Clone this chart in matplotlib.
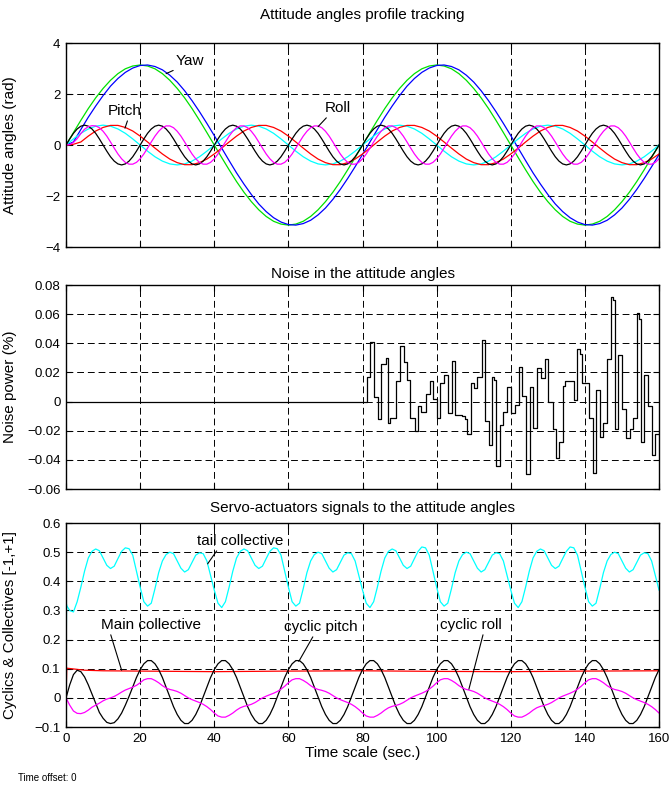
import numpy as np
import matplotlib
matplotlib.use("Agg")
import matplotlib.pyplot as plt
from matplotlib.ticker import FuncFormatter

plt.rcParams['font.family'] = ['Liberation Sans', 'DejaVu Sans']

# ---- data ----
# top panel, 2 s samples
t_slow = np.arange(0, 161, 2)
yaw_ref = [0, 0.49, 0.97, 1.43, 1.85, 2.22, 2.54, 2.80, 2.99, 3.10, 3.14, 3.10, 2.99, 2.80, 2.54, 2.22, 1.85, 1.43, 0.97, 0.49,
           0, -0.49, -0.97, -1.43, -1.85, -2.22, -2.54, -2.80, -2.99, -3.10, -3.14, -3.10, -2.99, -2.80, -2.54, -2.22, -1.85, -1.43, -0.97, -0.49,
           0, 0.49, 0.97, 1.43, 1.85, 2.22, 2.54, 2.80, 2.99, 3.10, 3.14, 3.10, 2.99, 2.80, 2.54, 2.22, 1.85, 1.43, 0.97, 0.49,
           0, -0.49, -0.97, -1.43, -1.85, -2.22, -2.54, -2.80, -2.99, -3.10, -3.14, -3.10, -2.99, -2.80, -2.54, -2.22, -1.85, -1.43, -0.97, -0.49,
           0]
yaw = [0, 0.12, 0.61, 1.09, 1.53, 1.94, 2.31, 2.61, 2.85, 3.02, 3.12, 3.14, 3.08, 2.95, 2.74, 2.47, 2.13, 1.74, 1.31, 0.85, 0.37,
       -0.12, -0.61, -1.09, -1.53, -1.94, -2.31, -2.61, -2.85, -3.02, -3.12, -3.14, -3.08, -2.95, -2.74, -2.47, -2.13, -1.74, -1.31, -0.85, -0.37,
       0.12, 0.61, 1.09, 1.53, 1.94, 2.31, 2.61, 2.85, 3.02, 3.12, 3.14, 3.08, 2.95, 2.74, 2.47, 2.13, 1.74, 1.31, 0.85, 0.37,
       -0.12, -0.61, -1.09, -1.53, -1.94, -2.31, -2.61, -2.85, -3.02, -3.12, -3.14, -3.08, -2.95, -2.74, -2.47, -2.13, -1.74, -1.31, -0.85, -0.37]
pitch_ref = [0, 0.24, 0.46, 0.63, 0.74, 0.78, 0.74, 0.63, 0.46, 0.24,
             0, -0.24, -0.46, -0.63, -0.74, -0.78, -0.74, -0.63, -0.46, -0.24,
             0, 0.24, 0.46, 0.63, 0.74, 0.78, 0.74, 0.63, 0.46, 0.24,
             0, -0.24, -0.46, -0.63, -0.74, -0.78, -0.74, -0.63, -0.46, -0.24,
             0, 0.24, 0.46, 0.63, 0.74, 0.78, 0.74, 0.63, 0.46, 0.24,
             0, -0.24, -0.46, -0.63, -0.74, -0.78, -0.74, -0.63, -0.46, -0.24,
             0, 0.24, 0.46, 0.63, 0.74, 0.78, 0.74, 0.63, 0.46, 0.24,
             0, -0.24, -0.46, -0.63, -0.74, -0.78, -0.74, -0.63, -0.46, -0.24,
             0]
pitch = [0, 0.03,
         0.12, 0.35, 0.55, 0.69, 0.77, 0.77, 0.69, 0.55, 0.35, 0.12,
         -0.12, -0.35, -0.55, -0.69, -0.77, -0.77, -0.69, -0.55, -0.35, -0.12,
         0.12, 0.35, 0.55, 0.69, 0.77, 0.77, 0.69, 0.55, 0.35, 0.12,
         -0.12, -0.35, -0.55, -0.69, -0.77, -0.77, -0.69, -0.55, -0.35, -0.12,
         0.12, 0.35, 0.55, 0.69, 0.77, 0.77, 0.69, 0.55, 0.35, 0.12,
         -0.12, -0.35, -0.55, -0.69, -0.77, -0.77, -0.69, -0.55, -0.35, -0.12,
         0.12, 0.35, 0.55, 0.69, 0.77, 0.77, 0.69, 0.55, 0.35, 0.12,
         -0.12, -0.35, -0.55, -0.69, -0.77, -0.77, -0.69, -0.55, -0.35]

# 1 s samples
t_fast = np.arange(0, 161, 1)
roll_ref = [0, 0.24, 0.46, 0.63, 0.74, 0.78, 0.74, 0.63, 0.46, 0.24, 0, -0.24, -0.46, -0.63, -0.74, -0.78, -0.74, -0.63, -0.46, -0.24,
            0, 0.24, 0.46, 0.63, 0.74, 0.78, 0.74, 0.63, 0.46, 0.24, 0, -0.24, -0.46, -0.63, -0.74, -0.78, -0.74, -0.63, -0.46, -0.24,
            0, 0.24, 0.46, 0.63, 0.74, 0.78, 0.74, 0.63, 0.46, 0.24, 0, -0.24, -0.46, -0.63, -0.74, -0.78, -0.74, -0.63, -0.46, -0.24,
            0, 0.24, 0.46, 0.63, 0.74, 0.78, 0.74, 0.63, 0.46, 0.24, 0, -0.24, -0.46, -0.63, -0.74, -0.78, -0.74, -0.63, -0.46, -0.24,
            0, 0.24, 0.46, 0.63, 0.74, 0.78, 0.74, 0.63, 0.46, 0.24, 0, -0.24, -0.46, -0.63, -0.74, -0.78, -0.74, -0.63, -0.46, -0.24,
            0, 0.24, 0.46, 0.63, 0.74, 0.78, 0.74, 0.63, 0.46, 0.24, 0, -0.24, -0.46, -0.63, -0.74, -0.78, -0.74, -0.63, -0.46, -0.24,
            0, 0.24, 0.46, 0.63, 0.74, 0.78, 0.74, 0.63, 0.46, 0.24, 0, -0.24, -0.46, -0.63, -0.74, -0.78, -0.74, -0.63, -0.46, -0.24,
            0, 0.24, 0.46, 0.63, 0.74, 0.78, 0.74, 0.63, 0.46, 0.24, 0, -0.24, -0.46, -0.63, -0.74, -0.78, -0.74, -0.63, -0.46, -0.24,
            0]
roll = [0, 0.02, 0.10, 0.25, 0.45, 0.62, 0.72, 0.76, 0.75, 0.68, 0.54, 0.35, 0.12,
        -0.12, -0.35, -0.54, -0.68, -0.75, -0.75, -0.68, -0.54, -0.35, -0.12,
        0.12, 0.35, 0.54, 0.68, 0.75, 0.75, 0.68, 0.54, 0.35, 0.12,
        -0.12, -0.35, -0.54, -0.68, -0.75, -0.75, -0.68, -0.54, -0.35, -0.12,
        0.12, 0.35, 0.54, 0.68, 0.75, 0.75, 0.68, 0.54, 0.35, 0.12,
        -0.12, -0.35, -0.54, -0.68, -0.75, -0.75, -0.68, -0.54, -0.35, -0.12,
        0.12, 0.35, 0.54, 0.68, 0.75, 0.75, 0.68, 0.54, 0.35, 0.12,
        -0.12, -0.35, -0.54, -0.68, -0.75, -0.75, -0.68, -0.54, -0.35, -0.12,
        0.12, 0.35, 0.54, 0.68, 0.75, 0.75, 0.68, 0.54, 0.35, 0.12,
        -0.12, -0.35, -0.54, -0.68, -0.75, -0.75, -0.68, -0.54, -0.35, -0.12,
        0.12, 0.35, 0.54, 0.68, 0.75, 0.75, 0.68, 0.54, 0.35, 0.12,
        -0.12, -0.35, -0.54, -0.68, -0.75, -0.75, -0.68, -0.54, -0.35, -0.12,
        0.12, 0.35, 0.54, 0.68, 0.75, 0.75, 0.68, 0.54, 0.35, 0.12,
        -0.12, -0.35, -0.54, -0.68, -0.75, -0.75, -0.68, -0.54, -0.35, -0.12,
        0.12, 0.35, 0.54, 0.68, 0.75, 0.75, 0.68, 0.54, 0.35, 0.12,
        -0.12, -0.35, -0.54, -0.68, -0.75, -0.75, -0.68, -0.54]

# middle panel: zero-order-hold noise (step start time, level)
noise_t = [0, 81.2, 81.9, 83.0, 84.1, 85.0, 86.2, 87.0, 87.4, 89.0, 90.0, 91.3, 92.1, 92.9, 94.1, 95.1, 95.9,
           97.1, 98.1, 99.1, 100.0, 100.9, 102.0, 103.0, 104.2, 105.0, 106.9, 107.6, 108.3, 109.2, 110.1,
           111.0, 112.2, 113.1, 114.1, 115.0, 115.5, 116.1, 117.1, 118.0, 119.0, 120.0, 121.1, 122.1, 123.1,
           124.1, 125.1, 126.1, 127.2, 128.2, 129.1, 130.1, 131.3, 132.2, 133.0, 134.0, 134.7, 137.0, 138.0,
           138.6, 139.1, 141.1, 142.1, 143.0, 144.1, 145.0, 146.0, 147.0, 147.5, 148.0, 149.0, 150.0, 151.0,
           152.1, 153.0, 154.0, 154.5, 155.0, 156.0, 157.0, 158.0, 159.0, 160.0]
noise_v = [0, 0.017, 0.041, 0.003, -0.012, 0.026, 0.030, -0.015, -0.011, 0.014, 0.038, 0.027, 0.015, -0.011, -0.020,
           -0.003, -0.007, 0.005, 0.014, 0.002, -0.011, 0.013, 0.018, -0.008, 0.028, -0.009, -0.010, -0.012, -0.022,
           0.013, 0.009, 0.017, 0.042, -0.013, -0.030, 0.017, 0.015, -0.044, -0.016, -0.007, 0.010, -0.008, -0.002,
           0.024, 0.004, -0.050, 0.010, -0.018, 0.023, 0.016, 0.029, 0.000, -0.019, -0.039, -0.028, 0.011, 0.014,
           0.001, 0.036, 0.033, 0.013, -0.011, -0.049, 0.008, -0.024, -0.015, 0.029, 0.072, 0.070, -0.019, 0.032,
           -0.005, -0.025, -0.019, -0.011, 0.061, 0.057, -0.028, 0.018, -0.003, -0.037, -0.022, -0.022]

# bottom panel, 1 s samples
tail_start_t = [0, 0.15]
tail_start_v = [0.10, 0.32]
tail_coll = [0.32, 0.30, 0.295,
             0.33, 0.38, 0.435, 0.48, 0.503, 0.511, 0.505, 0.48, 0.455, 0.444, 0.452, 0.478, 0.503, 0.515, 0.512, 0.49, 0.435, 0.38, 0.33, 0.315,
             0.325, 0.375, 0.43, 0.47, 0.492, 0.50, 0.495, 0.47, 0.445, 0.432, 0.44, 0.465, 0.49, 0.498, 0.495, 0.47, 0.42, 0.37, 0.325, 0.31,
             0.33, 0.38, 0.435, 0.48, 0.503, 0.511, 0.505, 0.48, 0.455, 0.444, 0.452, 0.478, 0.503, 0.515, 0.512, 0.49, 0.435, 0.38, 0.33, 0.315,
             0.325, 0.375, 0.43, 0.47, 0.492, 0.50, 0.495, 0.47, 0.445, 0.432, 0.44, 0.465, 0.49, 0.498, 0.495, 0.47, 0.42, 0.37, 0.325, 0.31,
             0.33, 0.38, 0.435, 0.48, 0.503, 0.511, 0.505, 0.48, 0.455, 0.444, 0.452, 0.478, 0.503, 0.518, 0.515, 0.49, 0.435, 0.38, 0.33, 0.315,
             0.325, 0.375, 0.43, 0.47, 0.492, 0.50, 0.495, 0.47, 0.445, 0.432, 0.44, 0.465, 0.49, 0.498, 0.495, 0.47, 0.42, 0.37, 0.325, 0.31,
             0.33, 0.38, 0.435, 0.48, 0.503, 0.511, 0.505, 0.48, 0.455, 0.444, 0.452, 0.478, 0.503, 0.518, 0.515, 0.49, 0.435, 0.38, 0.33, 0.315,
             0.325, 0.375, 0.43, 0.47, 0.492, 0.50, 0.495, 0.47, 0.445, 0.432, 0.44, 0.465, 0.49, 0.498, 0.495, 0.47, 0.42, 0.37]
main_t = [0, 0.2, 5, 10, 20, 40, 60, 80, 100, 120, 140, 160]
main_coll = [0, 0.102, 0.095, 0.093, 0.092, 0.090, 0.092, 0.093, 0.091, 0.090, 0.092, 0.093]
cyc_pitch = [0, 0.045, 0.08, 0.095, 0.09, 0.072, 0.045, 0.013, -0.02, -0.05, -0.07, -0.084, -0.088, -0.085, -0.072, -0.052, -0.025, 0.005, 0.037, 0.07,
             0.097, 0.117, 0.128, 0.128, 0.117, 0.097, 0.07, 0.037, 0.003, -0.03, -0.057, -0.077, -0.088, -0.088, -0.077, -0.057, -0.03, 0.003, 0.037, 0.07,
             0.097, 0.117, 0.128, 0.128, 0.117, 0.097, 0.07, 0.037, 0.003, -0.03, -0.057, -0.077, -0.088, -0.088, -0.077, -0.057, -0.03, 0.003, 0.037, 0.07,
             0.097, 0.117, 0.128, 0.128, 0.117, 0.097, 0.07, 0.037, 0.003, -0.03, -0.057, -0.077, -0.088, -0.088, -0.077, -0.057, -0.03, 0.003, 0.037, 0.07,
             0.097, 0.117, 0.128, 0.128, 0.117, 0.097, 0.07, 0.037, 0.003, -0.03, -0.057, -0.077, -0.088, -0.088, -0.077, -0.057, -0.03, 0.003, 0.037, 0.07,
             0.097, 0.117, 0.128, 0.128, 0.117, 0.097, 0.07, 0.037, 0.003, -0.03, -0.057, -0.077, -0.088, -0.088, -0.077, -0.057, -0.03, 0.003, 0.037, 0.07,
             0.097, 0.117, 0.128, 0.128, 0.117, 0.097, 0.07, 0.037, 0.003, -0.03, -0.057, -0.077, -0.088, -0.088, -0.077, -0.057, -0.03, 0.003, 0.037, 0.07,
             0.097, 0.117, 0.128, 0.128, 0.117, 0.097, 0.07, 0.037, 0.003, -0.03, -0.057, -0.077, -0.088, -0.088, -0.077, -0.057, -0.03, 0.003, 0.037, 0.07,
             0.097]
cyc_roll = [0, -0.025, -0.045, -0.053, -0.054, -0.05, -0.042, -0.032, -0.025, -0.018, -0.01, -0.004, 0.0, 0.005, 0.012, 0.02, 0.027, 0.032, 0.037, 0.043, 0.052, 0.062,
            0.066, 0.066, 0.06, 0.052, 0.042, 0.034, 0.029, 0.026, 0.022, 0.016, 0.008, 0.0, -0.006, -0.011, -0.016, -0.022, -0.03, -0.04, -0.052, -0.062,
            -0.066, -0.066, -0.06, -0.052, -0.042, -0.034, -0.029, -0.026, -0.022, -0.016, -0.008, 0.0, 0.006, 0.011, 0.016, 0.022, 0.03, 0.04, 0.052, 0.062,
            0.066, 0.066, 0.06, 0.052, 0.042, 0.034, 0.029, 0.026, 0.022, 0.016, 0.008, 0.0, -0.006, -0.011, -0.016, -0.022, -0.03, -0.04, -0.052, -0.062,
            -0.066, -0.066, -0.06, -0.052, -0.042, -0.034, -0.029, -0.026, -0.022, -0.016, -0.008, 0.0, 0.006, 0.011, 0.016, 0.022, 0.03, 0.04, 0.052, 0.062,
            0.066, 0.066, 0.06, 0.052, 0.042, 0.034, 0.029, 0.026, 0.022, 0.016, 0.008, 0.0, -0.006, -0.011, -0.016, -0.022, -0.03, -0.04, -0.052, -0.062,
            -0.066, -0.066, -0.06, -0.052, -0.042, -0.034, -0.029, -0.026, -0.022, -0.016, -0.008, 0.0, 0.006, 0.011, 0.016, 0.022, 0.03, 0.04, 0.052, 0.062,
            0.066, 0.066, 0.06, 0.052, 0.042, 0.034, 0.029, 0.026, 0.022, 0.016, 0.008, 0.0, -0.006, -0.011, -0.016, -0.022, -0.03, -0.04, -0.052]

x_ticks = [0, 20, 40, 60, 80, 100, 120, 140, 160]


def fmt(v, pos):
    s = f"{v:g}"
    return s.replace("-", "\u2212")


def style(ax, yticks, show_x):
    ax.set_xlim(0, 160)
    ax.set_ylim(yticks[0], yticks[-1])
    ax.set_xticks(x_ticks)
    ax.set_yticks(yticks)
    ax.yaxis.set_major_formatter(FuncFormatter(fmt))
    ax.grid(True, color="k", lw=0.7, linestyle=(0, (7, 4)))
    ax.set_axisbelow(True)
    ax.tick_params(direction="in", top=True, right=True, length=4, labelsize=9.5, pad=4)
    if not show_x:
        ax.tick_params(labelbottom=False)
    for s in ax.spines.values():
        s.set_linewidth(1.0)
    ax.yaxis.set_label_coords(-0.082, 0.5)


LW = 0.9
fig = plt.figure(figsize=(6.69, 7.90), dpi=100)
L, W, H = 0.0987, 0.8864, 0.2582

# ---- top: attitude angles ----
ax = fig.add_axes([L, 0.6873, W, H])
ax.plot(t_slow, yaw_ref, color="#00e000", lw=LW)
ax.plot(t_slow, yaw, color="#0000ff", lw=LW)
ax.plot(t_slow, pitch_ref, color="#00ffff", lw=LW)
ax.plot(t_slow, pitch, color="#ff0000", lw=LW)
ax.plot(t_fast, roll_ref, color="k", lw=LW)
ax.plot(t_fast, roll, color="#ff00ff", lw=LW)
style(ax, [-4, -2, 0, 2, 4], False)
ax.set_ylabel("Attitude angles (rad)", fontsize=11)
ax.set_title("Attitude angles profile tracking", fontsize=11, pad=17)
arrow = dict(arrowstyle="-", color="k", lw=0.8, shrinkA=0, shrinkB=0)
ax.annotate("Yaw", xy=(27, 2.8), xytext=(33.5, 3.3), ha="center", va="center", fontsize=11,
            arrowprops=dict(arrow, relpos=(0.1, 0)))
ax.annotate("Pitch", xy=(15.9, 0.66), xytext=(15.9, 1.33), ha="center", va="center", fontsize=11,
            arrowprops=dict(arrow, relpos=(0.6, 0)))
ax.annotate("Roll", xy=(68, 0.72), xytext=(73.4, 1.45), ha="center", va="center", fontsize=11,
            arrowprops=dict(arrow, relpos=(0.15, 0)))

# ---- middle: noise ----
ax = fig.add_axes([L, 0.3810, W, H])
ax.step(noise_t, noise_v, where="post", color="k", lw=LW)
style(ax, [-0.06, -0.04, -0.02, 0, 0.02, 0.04, 0.06, 0.08], False)
ax.set_ylabel("Noise power (%)", fontsize=11)
ax.set_title("Noise in the attitude angles", fontsize=11, pad=5)

# ---- bottom: servo signals ----
ax = fig.add_axes([L, 0.0797, W, H])
ax.plot(tail_start_t, tail_start_v, color="#00ffff", lw=LW)
ax.plot(t_fast, tail_coll, color="#00ffff", lw=LW)
ax.plot(main_t, main_coll, color="#ff0000", lw=LW)
ax.plot(t_fast, cyc_pitch, color="k", lw=LW)
ax.plot(t_fast, cyc_roll, color="#ff00ff", lw=LW)
style(ax, [-0.1, 0, 0.1, 0.2, 0.3, 0.4, 0.5, 0.6], True)
ax.set_ylabel("Cyclics & Collectives [-1,+1]", fontsize=11)
ax.set_xlabel("Time scale (sec.)", fontsize=11, labelpad=1)
ax.set_title("Servo-actuators signals to the attitude angles", fontsize=11, pad=8)
ax.annotate("tail collective", xy=(38.2, 0.46), xytext=(47, 0.538), ha="center", va="center", fontsize=11,
            arrowprops=dict(arrow, relpos=(0.25, 0)))
ax.annotate("Main collective", xy=(15, 0.095), xytext=(22.9, 0.25), ha="center", va="center", fontsize=11,
            arrowprops=dict(arrow, relpos=(0.09, 0)))
ax.annotate("cyclic pitch", xy=(62.8, 0.125), xytext=(68.8, 0.243), ha="center", va="center", fontsize=11,
            arrowprops=dict(arrow, relpos=(0.41, 0)))
ax.annotate("cyclic roll", xy=(108.7, 0.03), xytext=(109.2, 0.25), ha="center", va="center", fontsize=11,
            arrowprops=dict(arrow, relpos=(0.71, 0)))

fig.text(18 / 669, 1 - 778 / 790, "Time offset: 0", fontsize=7, ha="left", va="center")

fig.savefig("out.png", dpi=100)
